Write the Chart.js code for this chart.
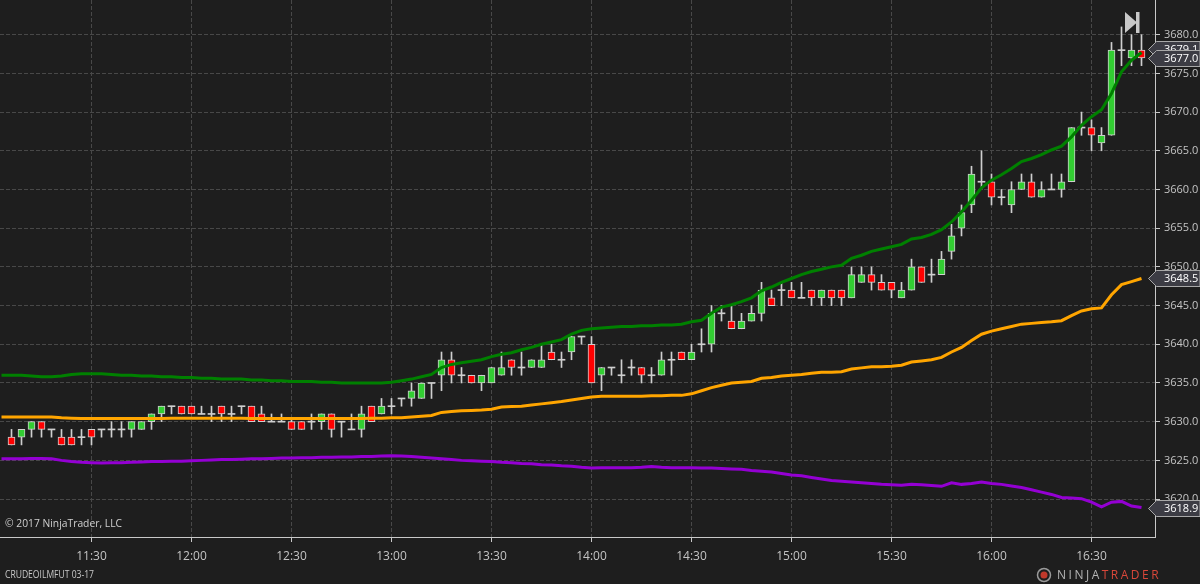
<!DOCTYPE html>
<html>
<head>
<meta charset="utf-8">
<title>CRUDEOILMFUT 03-17</title>
<script src="https://cdn.jsdelivr.net/npm/chart.js@4.4.1/dist/chart.umd.min.js"></script>
<style>
  html, body { margin: 0; padding: 0; background: #1e1e1e; }
  #wrap { width: 1200px; height: 584px; }
</style>
</head>
<body>
<div id="wrap"><canvas id="priceChart" width="1200" height="584"></canvas></div>
<script>
// 3 minute bars, first visible bar 11:06
const firstBar = 11 * 60 + 6;
const barMinutes = 3;

const opens = [
  3628, 3628, 3629, 3630, 3629, 3628, 3628, 3628, 3629, 3629,
  3629, 3629, 3629, 3629, 3630, 3631, 3632, 3632, 3632, 3631,
  3631, 3632, 3631, 3632, 3632, 3631, 3630, 3630, 3630, 3630,
  3630, 3630, 3631, 3630, 3629, 3629, 3632, 3631, 3632, 3633,
  3633, 3633, 3635, 3636, 3638, 3636, 3636, 3635, 3635, 3636,
  3638, 3637, 3637, 3637, 3639, 3638, 3639, 3641, 3640, 3636,
  3637, 3636, 3637, 3637, 3636, 3636, 3638, 3639, 3638, 3640,
  3640, 3644, 3643, 3642, 3643, 3644, 3646, 3647, 3647, 3646,
  3647, 3646, 3647, 3647, 3646, 3648, 3649, 3648, 3648, 3646,
  3647, 3650, 3649, 3649, 3652, 3655, 3658, 3661, 3661, 3659,
  3658, 3660, 3661, 3659, 3660, 3660, 3661, 3668, 3668, 3666,
  3667, 3678, 3677, 3678
];
const highs = [
  3629, 3629, 3630, 3630, 3629, 3629, 3629, 3629, 3629, 3629,
  3630, 3630, 3630, 3630, 3631, 3632, 3632, 3632, 3632, 3632,
  3632, 3632, 3632, 3632, 3632, 3632, 3631, 3631, 3630.5, 3630,
  3631, 3631, 3631, 3630, 3631, 3632, 3632, 3633, 3633, 3633,
  3635, 3635, 3635, 3639, 3639, 3637, 3636, 3636, 3637, 3639,
  3638, 3639, 3638, 3640, 3640, 3639, 3641, 3641, 3641, 3637,
  3637, 3638, 3638, 3637, 3637, 3639, 3639, 3639, 3640, 3642,
  3645, 3645, 3645, 3644, 3645, 3648, 3647, 3648, 3648, 3648,
  3647, 3647, 3647, 3647, 3650, 3650, 3650, 3649, 3648, 3648,
  3651, 3650, 3651, 3652, 3655.5, 3658, 3663, 3665, 3662, 3660,
  3661, 3662, 3662, 3661, 3662, 3662, 3668, 3670, 3669, 3668,
  3679, 3681, 3680, 3680
];
const lows = [
  3627, 3627, 3628, 3628, 3628, 3627, 3627, 3627, 3627, 3628,
  3628, 3628, 3628, 3629, 3629, 3630, 3631, 3631, 3631, 3631,
  3630, 3630, 3630, 3631, 3630, 3630, 3630, 3630, 3629, 3629,
  3629, 3629, 3628, 3628, 3629, 3628, 3630, 3631, 3631, 3632,
  3632, 3633, 3633, 3634, 3635, 3635, 3635, 3634, 3635, 3636,
  3636, 3636, 3637, 3637, 3638, 3637, 3638, 3640, 3635, 3634,
  3636, 3635, 3636, 3635, 3635, 3636, 3636, 3638, 3638, 3639,
  3639, 3643, 3642, 3642, 3643, 3643, 3645, 3645, 3646, 3646,
  3645, 3645, 3645, 3645, 3646, 3648, 3647, 3647, 3646, 3646,
  3647, 3648, 3648, 3649, 3651, 3654, 3657, 3660, 3658, 3658,
  3657, 3660, 3659, 3659, 3660, 3659, 3661, 3667, 3665, 3665,
  3667, 3676, 3676, 3676
];
const closes = [
  3627, 3629, 3630, 3629, 3629, 3627, 3627, 3628, 3628, 3629,
  3629, 3629, 3630, 3630, 3631, 3632, 3632, 3631, 3631, 3631,
  3631, 3631, 3631, 3632, 3630, 3630, 3630, 3630, 3629, 3629,
  3630, 3631, 3629, 3630, 3629, 3631, 3630, 3632, 3632, 3633,
  3634, 3635, 3635, 3638, 3636, 3636, 3635, 3636, 3637, 3637,
  3637, 3637, 3638, 3638, 3638, 3638, 3641, 3641, 3635, 3637,
  3637, 3636, 3637, 3636, 3636, 3638, 3638, 3638, 3639, 3640,
  3644, 3644, 3642, 3643, 3644, 3647, 3645, 3647, 3646, 3646,
  3646, 3647, 3646, 3646, 3649, 3649, 3648, 3647, 3647, 3647,
  3650, 3648, 3649, 3651, 3654, 3657, 3662, 3661, 3659, 3659,
  3660, 3661, 3659, 3660, 3660, 3661, 3668, 3668, 3667, 3667,
  3678, 3678, 3678, 3677
];

// indicator lines (green upper, orange middle, purple lower); first value is the 11:03 bar at the left edge
const upperBand = [
  3636.0,
  3636.0, 3636.0, 3635.9, 3635.8, 3635.8, 3635.9, 3636.1, 3636.2, 3636.2, 3636.2,
  3636.1, 3636.0, 3636.0, 3635.9, 3635.9, 3635.8, 3635.8, 3635.7, 3635.7, 3635.6,
  3635.6, 3635.5, 3635.5, 3635.5, 3635.4, 3635.4, 3635.3, 3635.3, 3635.2, 3635.2,
  3635.2, 3635.1, 3635.1, 3635.0, 3635.0, 3635.0, 3635.0, 3635.0, 3635.1, 3635.3,
  3635.5, 3635.8, 3636.1, 3637.0, 3637.4, 3637.6, 3637.8, 3638.0, 3638.4, 3638.7,
  3638.9, 3639.3, 3639.6, 3640.0, 3640.3, 3640.6, 3641.3, 3641.8, 3642.0, 3642.1,
  3642.2, 3642.3, 3642.3, 3642.4, 3642.4, 3642.5, 3642.5, 3642.6, 3642.9, 3643.1,
  3644.0, 3644.8, 3645.1, 3645.5, 3646.0, 3646.9, 3647.4, 3648.0, 3648.5, 3649.0,
  3649.4, 3649.7, 3650.0, 3650.2, 3651.1, 3651.5, 3652.0, 3652.3, 3652.6, 3652.9,
  3653.6, 3653.8, 3654.2, 3654.8, 3655.8, 3657.1, 3658.6, 3660.2, 3661.2, 3661.9,
  3662.7, 3663.6, 3664.0, 3664.5, 3665.1, 3665.6, 3666.8, 3668.3, 3669.4, 3670.3,
  3672.4, 3675.2, 3676.7, 3677.7
];
const middleBand = [
  3630.6,
  3630.6, 3630.6, 3630.6, 3630.6, 3630.6, 3630.5, 3630.45, 3630.4, 3630.4, 3630.4,
  3630.4, 3630.4, 3630.4, 3630.4, 3630.4, 3630.4, 3630.45, 3630.45, 3630.45, 3630.45,
  3630.45, 3630.45, 3630.45, 3630.45, 3630.4, 3630.4, 3630.4, 3630.4, 3630.4, 3630.4,
  3630.4, 3630.4, 3630.4, 3630.4, 3630.4, 3630.4, 3630.45, 3630.45, 3630.5, 3630.5,
  3630.6, 3630.7, 3630.8, 3631.2, 3631.3, 3631.4, 3631.45, 3631.5, 3631.6, 3631.9,
  3631.95, 3632.0, 3632.15, 3632.3, 3632.45, 3632.6, 3632.8, 3633.0, 3633.2, 3633.3,
  3633.3, 3633.3, 3633.3, 3633.3, 3633.35, 3633.35, 3633.4, 3633.4, 3633.6, 3634.0,
  3634.4, 3634.7, 3635.0, 3635.1, 3635.2, 3635.6, 3635.7, 3635.9, 3636.0, 3636.1,
  3636.25, 3636.4, 3636.4, 3636.45, 3636.8, 3636.95, 3637.1, 3637.1, 3637.15, 3637.3,
  3637.7, 3637.85, 3638.0, 3638.3, 3639.0, 3639.6, 3640.5, 3641.3, 3641.7, 3642.0,
  3642.3, 3642.6, 3642.7, 3642.8, 3642.9, 3643.05, 3643.7, 3644.3, 3644.6, 3644.7,
  3646.4, 3647.7, 3648.1, 3648.5
];
const lowerBand = [
  3625.2,
  3625.2, 3625.2, 3625.25, 3625.25, 3625.2, 3625.0, 3624.85, 3624.75, 3624.7, 3624.65,
  3624.7, 3624.7, 3624.75, 3624.8, 3624.85, 3624.85, 3624.9, 3624.9, 3624.95, 3625.0,
  3625.05, 3625.1, 3625.1, 3625.15, 3625.2, 3625.2, 3625.25, 3625.3, 3625.3, 3625.35,
  3625.35, 3625.4, 3625.4, 3625.45, 3625.45, 3625.5, 3625.5, 3625.55, 3625.6, 3625.55,
  3625.5, 3625.4, 3625.3, 3625.2, 3625.1, 3625.0, 3624.95, 3624.9, 3624.85, 3624.75,
  3624.7, 3624.6, 3624.55, 3624.45, 3624.4, 3624.3, 3624.25, 3624.1, 3624.0, 3624.05,
  3624.05, 3624.05, 3624.05, 3624.1, 3624.2, 3624.1, 3624.05, 3624.05, 3624.05, 3624.0,
  3624.0, 3623.95, 3623.9, 3623.85, 3623.7, 3623.6, 3623.5, 3623.3, 3623.1, 3623.0,
  3622.8, 3622.6, 3622.4, 3622.3, 3622.2, 3622.1, 3622.0, 3621.9, 3621.85, 3621.8,
  3621.9, 3621.85, 3621.75, 3621.65, 3622.1, 3621.9, 3622.0, 3622.2, 3622.0, 3621.9,
  3621.7, 3621.5, 3621.2, 3620.9, 3620.6, 3620.2, 3620.15, 3620.05, 3619.6, 3619.0,
  3619.6, 3619.7, 3619.1, 3618.9
];

const priceTicks = [3620, 3625, 3630, 3635, 3640, 3645, 3650, 3655, 3660, 3665, 3670, 3675, 3680];
const timeTicks = ['11:30', '12:00', '12:30', '13:00', '13:30', '14:00', '14:30', '15:00', '15:30', '16:00', '16:30'];

const toMinutes = s => { const p = s.split(':'); return +p[0] * 60 + +p[1]; };
const toLabel = m => Math.floor(m / 60) + ':' + String(Math.round(m % 60)).padStart(2, '0');
const times = opens.map((_, i) => firstBar + i * barMinutes);
const lineTimes = upperBand.map((_, i) => firstBar + (i - 1) * barMinutes);

const UP = '#32cd32', DOWN = '#ff0000', OUTLINE = '#cfcfcf', AXIS_TXT = '#c4c4c4';

Chart.defaults.font.family = '"Open Sans", "Liberation Sans", Arial, sans-serif';
Chart.defaults.color = AXIS_TXT;

function tag(ctx, y, text, fill, color) {
  ctx.beginPath();
  ctx.moveTo(1148.5, y);
  ctx.lineTo(1156.5, y - 8);
  ctx.lineTo(1200, y - 8);
  ctx.lineTo(1200, y + 8);
  ctx.lineTo(1156.5, y + 8);
  ctx.closePath();
  ctx.fillStyle = fill;
  ctx.fill();
  ctx.strokeStyle = '#a8a8a8';
  ctx.lineWidth = 1;
  ctx.stroke();
  ctx.fillStyle = color;
  ctx.font = '11px "Open Sans", Arial, sans-serif';
  ctx.textBaseline = 'middle';
  ctx.textAlign = 'left';
  ctx.fillText(text, 1164, y + 0.5);
}

const decorations = {
  id: 'decorations',
  beforeDraw(chart) {
    const ctx = chart.ctx;
    ctx.save();
    ctx.fillStyle = '#1e1e1e';
    ctx.fillRect(0, 0, chart.width, chart.height);
    ctx.restore();
  },
  afterDraw(chart) {
    const ctx = chart.ctx;
    const ys = chart.scales.y;
    ctx.save();

    // price markers on the axis
    const lastY = ys.getPixelForValue(closes[closes.length - 1]);
    tag(ctx, Math.round(lastY) - 8.5, '3679.1', '#3c3c44', '#ffffff');
    tag(ctx, Math.round(lastY) + 0.5, closes[closes.length - 1].toFixed(1), '#3c3c44', '#ffffff');
    tag(ctx, Math.round(ys.getPixelForValue(middleBand[middleBand.length - 1])) + 0.5,
        middleBand[middleBand.length - 1].toFixed(1), '#3c3c44', '#ffffff');
    tag(ctx, Math.round(ys.getPixelForValue(lowerBand[lowerBand.length - 1])) + 0.5,
        lowerBand[lowerBand.length - 1].toFixed(1), '#3c3c44', '#ffffff');

    // "go to last bar" icon
    ctx.fillStyle = '#c8c8c8';
    ctx.beginPath();
    ctx.moveTo(1125, 12);
    ctx.lineTo(1137, 22.5);
    ctx.lineTo(1125, 33);
    ctx.closePath();
    ctx.fill();
    ctx.fillRect(1136, 12, 3.5, 21);

    // texts
    ctx.textAlign = 'left';
    ctx.textBaseline = 'middle';
    ctx.fillStyle = '#d0d0d0';
    ctx.font = '11.5px "Open Sans", Arial, sans-serif';
    ctx.fillText('\u00a9 2017 NinjaTrader, LLC', 5, 524, 117);
    ctx.fillStyle = '#c8c8c8';
    ctx.font = '10.5px "Open Sans", Arial, sans-serif';
    ctx.fillText('CRUDEOILMFUT 03-17', 5, 575, 89);

    // logo
    ctx.strokeStyle = '#9a9a9a';
    ctx.lineWidth = 1.5;
    ctx.beginPath();
    ctx.arc(1044, 575, 6.5, 0, Math.PI * 2);
    ctx.stroke();
    ctx.fillStyle = '#c0392b';
    ctx.beginPath();
    ctx.arc(1044, 575, 3.5, 0, Math.PI * 2);
    ctx.fill();
    ctx.font = '12px "Open Sans", Arial, sans-serif';
    ctx.letterSpacing = '2.5px';
    ctx.fillStyle = '#b4b4b4';
    ctx.fillText('NINJA', 1057, 575.5);
    const w = ctx.measureText('NINJA').width;
    ctx.fillStyle = '#d9473a';
    ctx.fillText('TRADER', 1057 + w, 575.5);
    ctx.restore();
  }
};

const ctx = document.getElementById('priceChart').getContext('2d');

new Chart(ctx, {
  type: 'bar',
  data: {
    datasets: [
      {
        type: 'line', label: 'Upper', order: 0,
        data: upperBand.map((v, i) => ({ x: lineTimes[i], y: v })),
        borderColor: '#008000', borderWidth: 3, pointRadius: 0, tension: 0, fill: false
      },
      {
        type: 'line', label: 'Middle', order: 0,
        data: middleBand.map((v, i) => ({ x: lineTimes[i], y: v })),
        borderColor: '#ffa500', borderWidth: 3, pointRadius: 0, tension: 0, fill: false
      },
      {
        type: 'line', label: 'Lower', order: 0,
        data: lowerBand.map((v, i) => ({ x: lineTimes[i], y: v })),
        borderColor: '#9400d3', borderWidth: 3, pointRadius: 0, tension: 0, fill: false
      },
      {
        type: 'bar', label: 'Body', order: 1, grouped: false, barThickness: 7,
        data: opens.map((o, i) => ({
          x: times[i],
          y: o === closes[i] ? [o - 0.065, o + 0.065] : [o, closes[i]]
        })),
        backgroundColor: opens.map((o, i) => closes[i] > o ? UP : closes[i] < o ? DOWN : OUTLINE),
        borderColor: OUTLINE,
        borderWidth: opens.map((o, i) => o === closes[i] ? 0 : 1),
        borderSkipped: false
      },
      {
        type: 'bar', label: 'Wick', order: 2, grouped: false, barThickness: 1,
        data: lows.map((l, i) => ({ x: times[i], y: [l, highs[i]] })),
        backgroundColor: OUTLINE,
        borderWidth: 0
      }
    ]
  },
  options: {
    responsive: false,
    animation: false,
    devicePixelRatio: 1,
    layout: { padding: 0 },
    plugins: { legend: { display: false }, tooltip: { enabled: false } },
    scales: {
      x: {
        type: 'linear',
        position: 'bottom',
        offset: false,
        min: 662.55,
        max: 1009.05,
        afterBuildTicks: s => { s.ticks = timeTicks.map(t => ({ value: toMinutes(t) })); },
        afterFit: s => { s.height = 47; s.paddingLeft = 0; s.paddingRight = 0; },
        grid: {
          offset: false, color: '#484848', lineWidth: 1,
          tickLength: 5, tickColor: '#c8c8c8', tickBorderDash: []
        },
        border: { display: true, color: '#c8c8c8', width: 1, dash: [4, 2] },
        ticks: {
          autoSkip: false, maxRotation: 0, padding: 7,
          font: { size: 12 }, color: AXIS_TXT,
          callback: v => toLabel(v)
        }
      },
      y: {
        type: 'linear',
        position: 'right',
        min: 3615.1,
        max: 3684.48,
        afterBuildTicks: s => { s.ticks = priceTicks.map(v => ({ value: v })); },
        afterFit: s => { s.width = 45; s.paddingTop = 0; s.paddingBottom = 0; },
        grid: {
          color: '#484848', lineWidth: 1,
          tickLength: 5, tickColor: '#c8c8c8', tickBorderDash: []
        },
        border: { display: true, color: '#c8c8c8', width: 1, dash: [4, 2] },
        ticks: {
          padding: 4, font: { size: 11 }, color: AXIS_TXT,
          callback: v => v.toFixed(1)
        }
      }
    }
  },
  plugins: [decorations]
});
</script>
</body>
</html>
